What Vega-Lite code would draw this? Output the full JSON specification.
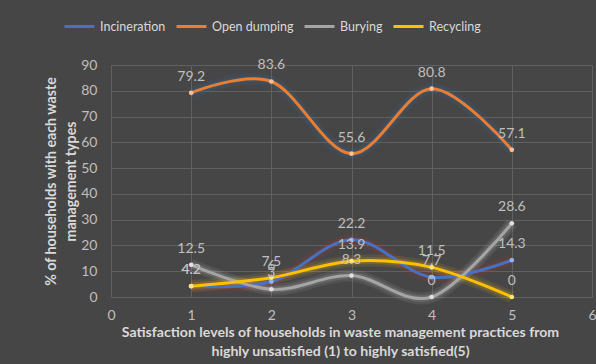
{
  "$schema": "https://vega.github.io/schema/vega-lite/v6.json",
  "width": 481,
  "height": 232,
  "autosize": {"type": "none"},
  "padding": {"left": 111, "top": 65, "right": 4, "bottom": 67},
  "background": "#464646",
  "config": {
    "font": "Lato",
    "view": {"stroke": null},
    "axis": {
      "gridColor": "#606060",
      "gridWidth": 1,
      "domain": false,
      "ticks": false,
      "labelColor": "#BFBFBF",
      "labelFontSize": 14,
      "titleColor": "#D9D9D9",
      "titleFontSize": 14.1,
      "titleFontWeight": "bold"
    }
  },
  "data": {
    "values": [
      {"level": 1, "type": "Incineration", "pct": 4.2},
      {"level": 2, "type": "Incineration", "pct": 6},
      {"level": 3, "type": "Incineration", "pct": 22.2},
      {"level": 4, "type": "Incineration", "pct": 7.7},
      {"level": 5, "type": "Incineration", "pct": 14.3},
      {"level": 1, "type": "Open dumping", "pct": 79.2},
      {"level": 2, "type": "Open dumping", "pct": 83.6},
      {"level": 3, "type": "Open dumping", "pct": 55.6},
      {"level": 4, "type": "Open dumping", "pct": 80.8},
      {"level": 5, "type": "Open dumping", "pct": 57.1},
      {"level": 1, "type": "Burying", "pct": 12.5},
      {"level": 2, "type": "Burying", "pct": 3},
      {"level": 3, "type": "Burying", "pct": 8.3},
      {"level": 4, "type": "Burying", "pct": 0},
      {"level": 5, "type": "Burying", "pct": 28.6},
      {"level": 1, "type": "Recycling", "pct": 4.2},
      {"level": 2, "type": "Recycling", "pct": 7.5},
      {"level": 3, "type": "Recycling", "pct": 13.9},
      {"level": 4, "type": "Recycling", "pct": 11.5},
      {"level": 5, "type": "Recycling", "pct": 0}
    ]
  },
  "encoding": {
    "x": {
      "field": "level",
      "type": "quantitative",
      "scale": {"domain": [0, 6], "nice": false, "zero": true},
      "axis": {
        "values": [0, 1, 2, 3, 4, 5, 6],
        "labelFlush": false,
        "labelPadding": 11,
        "title": ["Satisfaction levels of households  in waste management practices from", "highly unsatisfied (1) to highly satisfied(5)"],
        "titlePadding": 3,
        "titleLineHeight": 19,
        "titleX": 229
      }
    },
    "y": {
      "field": "pct",
      "type": "quantitative",
      "scale": {"domain": [0, 90], "nice": false},
      "axis": {
        "values": [0, 10, 20, 30, 40, 50, 60, 70, 80, 90],
        "labelPadding": 14,
        "title": ["% of households with each  waste", "management types"],
        "titleFontSize": 14.2,
        "titlePadding": 2,
        "titleLineHeight": 20
      }
    }
  },
  "layer": [
    {
      "mark": {"type": "line", "interpolate": "cardinal", "strokeWidth": 12, "opacity": 0.1, "clip": false},
      "encoding": {
        "detail": {"field": "type"},
        "color": {
          "field": "type",
          "type": "nominal",
          "scale": {"domain": ["Incineration", "Open dumping", "Burying", "Recycling"], "range": ["#C0392B", "#2E75B6", "#D0D0D0", "#FFD21A"]},
          "legend": null
        }
      }
    },
    {
      "mark": {"type": "line", "interpolate": "cardinal", "strokeWidth": 7, "opacity": 0.15, "clip": false},
      "encoding": {
        "detail": {"field": "type"},
        "color": {
          "field": "type",
          "type": "nominal",
          "scale": {"domain": ["Incineration", "Open dumping", "Burying", "Recycling"], "range": ["#C0392B", "#2E75B6", "#D0D0D0", "#FFD21A"]},
          "legend": null
        }
      }
    },
    {
      "mark": {"type": "line", "interpolate": "cardinal", "strokeWidth": 3, "clip": false},
      "encoding": {
        "color": {
          "field": "type",
          "type": "nominal",
          "scale": {"domain": ["Incineration", "Open dumping", "Burying", "Recycling"], "range": ["#4472C4", "#ED7D31", "#A5A5A5", "#FFC000"]},
          "legend": {
            "orient": "none",
            "direction": "horizontal",
            "legendX": -48,
            "legendY": -55,
            "title": null,
            "symbolType": "stroke",
            "symbolSize": 900,
            "symbolStrokeWidth": 3,
            "labelColor": "#D9D9D9",
            "labelFont": "Lato",
            "labelFontSize": 12.5,
            "labelOffset": 4,
            "columnPadding": 4
          }
        }
      }
    },
    {
      "mark": {"type": "circle", "size": 22, "opacity": 1, "clip": false},
      "encoding": {
        "color": {
          "field": "type",
          "type": "nominal",
          "scale": {"domain": ["Incineration", "Open dumping", "Burying", "Recycling"], "range": ["#8FB0E8", "#F8C09A", "#E0E0E0", "#FFE680"]},
          "legend": null
        }
      }
    },
    {
      "mark": {"type": "text", "dy": -16, "fontSize": 14, "color": "#BFBFBF", "font": "Lato"},
      "encoding": {"text": {"field": "pct", "type": "quantitative"}}
    }
  ],
  "resolve": {"scale": {"color": "independent"}}
}
